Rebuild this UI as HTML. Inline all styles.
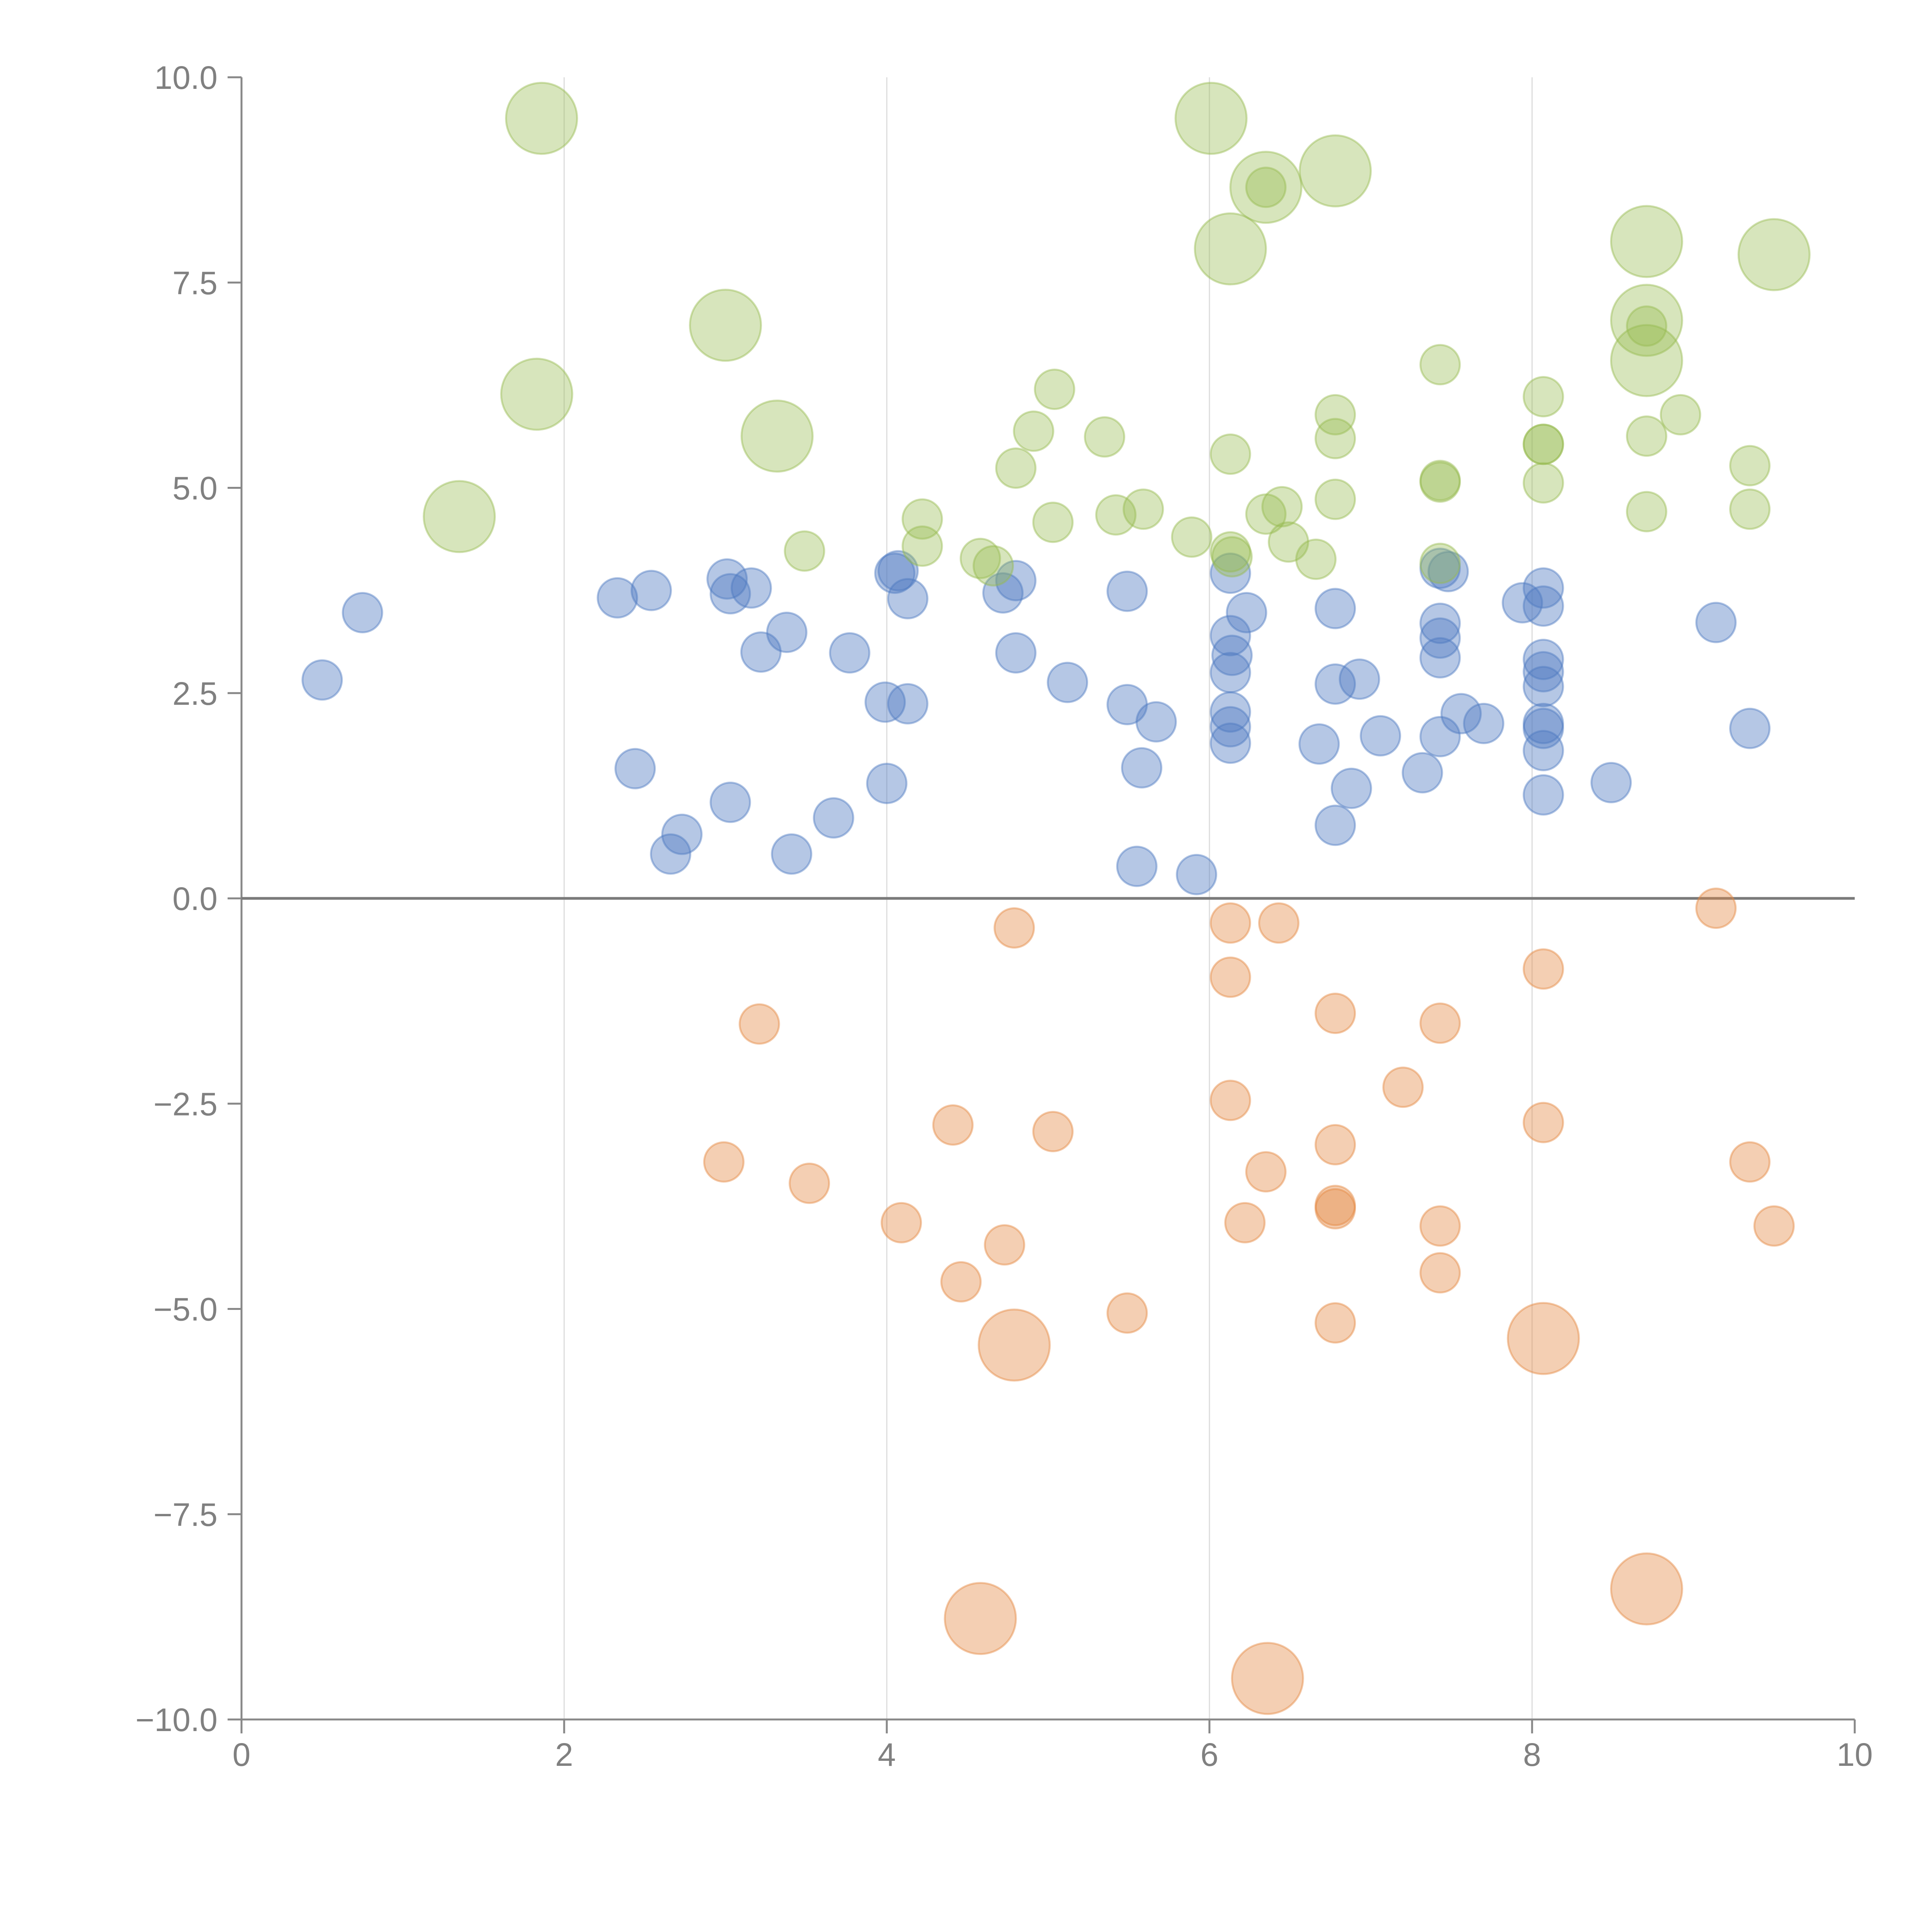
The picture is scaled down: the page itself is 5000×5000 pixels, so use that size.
<!DOCTYPE html>
<html><head><meta charset="utf-8"><style>html,body{margin:0;padding:0;background:#fff}svg{display:block}</style></head>
<body>
<svg id="chart" width="5000" height="5000" xmlns="http://www.w3.org/2000/svg" font-family="'Liberation Sans', sans-serif">
<g id="grid"></g>
<g id="axes"></g>
<g id="marks"></g>
</svg>
<script>
const xTicks = [0, 2, 4, 6, 8, 10];
const yTicks = [10, 7.5, 5, 2.5, 0, -2.5, -5, -7.5, -10];
const yTickLabels = ["10.0", "7.5", "5.0", "2.5", "0.0", "\u22122.5", "\u22125.0", "\u22127.5", "\u221210.0"];

const blueX = [0.50,0.75,2.33,2.54,2.44,2.66,2.73,3.01,3.03,3.16,3.03,3.22,3.38,3.41,3.67,3.77,3.99,4.00,4.05,4.07,4.13,4.13,4.72,4.80,4.80,5.12,5.49,5.49,5.58,5.67,5.55,5.92,6.13,6.23,6.13,6.14,6.13,6.13,6.13,6.13,6.78,6.78,6.93,6.68,7.06,6.88,6.78,7.32,7.43,7.48,7.43,7.43,7.43,7.43,7.56,7.70,7.94,8.07,8.07,8.07,8.07,8.07,8.07,8.07,8.07,8.07,8.49,9.14,9.35];
const blueY = [2.66,3.48,3.66,3.75,1.58,0.54,0.78,3.89,3.71,3.78,1.17,3.00,3.24,0.54,0.98,2.99,2.39,1.40,3.96,3.99,3.65,2.37,3.72,3.87,2.99,2.63,3.74,2.36,1.59,2.15,0.39,0.29,3.96,3.48,3.20,2.96,2.75,2.27,2.09,1.89,3.53,2.61,2.67,1.88,1.98,1.34,0.89,1.53,4.02,3.98,3.35,3.17,2.93,1.97,2.25,2.13,3.60,3.78,3.56,2.91,2.76,2.58,2.13,2.07,1.80,1.26,1.41,3.36,2.07];

const orangeX = [9.14,4.79,6.13,6.43,6.13,8.07,3.21,6.78,7.43,7.20,6.13,8.07,4.41,5.03,6.78,2.99,9.35,3.52,6.35,6.78,6.78,4.09,6.22,7.43,9.50,4.73,7.43,4.46,5.49,6.78,4.79,8.07,8.71,4.58,6.36];
const orangeY = [-0.12,-0.36,-0.30,-0.30,-0.96,-0.86,-1.53,-1.40,-1.52,-2.30,-2.46,-2.73,-2.76,-2.84,-3.00,-3.21,-3.21,-3.47,-3.33,-3.74,-3.78,-3.95,-3.95,-3.99,-3.99,-4.22,-4.56,-4.67,-5.05,-5.17,-5.44,-5.36,-8.41,-8.77,-9.50];
const orangeSize = [0,0,0,0,0,0,0,0,0,0,0,0,0,0,0,0,0,0,0,0,0,0,0,0,0,0,0,0,0,0,1,1,1,1,1];

const greenX = [1.86,6.01,6.35,6.78,6.13,8.71,9.50,3.00,8.71,8.71,1.83,3.32,1.35,6.35,8.71,7.43,5.04,8.07,6.78,8.92,4.91,5.35,6.78,8.71,8.07,8.07,6.13,4.80,9.35,7.43,7.43,8.07,6.78,6.45,5.42,5.59,6.35,8.71,9.35,4.22,5.03,5.89,6.49,4.22,3.49,6.13,6.14,6.66,4.58,4.66,7.43];
const greenY = [9.50,9.50,8.66,8.86,7.91,8.00,7.84,6.98,7.04,6.55,6.14,5.63,4.65,8.66,6.97,6.50,6.20,6.11,5.89,5.89,5.69,5.62,5.60,5.63,5.53,5.53,5.41,5.24,5.27,5.09,5.07,5.06,4.86,4.77,4.67,4.74,4.68,4.71,4.74,4.62,4.58,4.40,4.34,4.29,4.23,4.22,4.16,4.13,4.14,4.05,4.08];
const greenSize = [1,1,1,1,1,1,1,1,1,1,1,1,1,0,0,0,0,0,0,0,0,0,0,0,0,0,0,0,0,0,0,0,0,0,0,0,0,0,0,0,0,0,0,0,0,0,0,0,0,0,0];

const NS = "http://www.w3.org/2000/svg";
const X0 = 625, X1 = 4800, Y0 = 4450, Y1 = 200;
function sx(v){ return X0 + (v - 0) / 10 * (X1 - X0); }
function sy(v){ return Y0 - (v + 10) / 20 * (Y0 - Y1); }
function rad(s){ return s ? 92 : 51; }
function mk(tag, attrs, parent){ const e = document.createElementNS(NS, tag); for (const k in attrs) e.setAttribute(k, attrs[k]); parent.appendChild(e); return e; }

const grid = document.getElementById('grid');
const axes = document.getElementById('axes');
const marks = document.getElementById('marks');

[2,4,6,8].forEach(v => {
  const l = mk('line', {x1: sx(v), x2: sx(v), y1: Y1, y2: Y0, stroke: '#dcdcdc', 'stroke-width': 3}, grid);
  
  
});

const ya = mk('line', {x1: X0, x2: X0, y1: Y1, y2: Y0, stroke: '#888', 'stroke-width': 5}, axes);


const xa = mk('line', {x1: X0, x2: X1, y1: Y0, y2: Y0, stroke: '#888', 'stroke-width': 5}, axes);



yTicks.forEach((v, i) => {
  const t = mk('line', {x1: X0 - 36, x2: X0, y1: sy(v), y2: sy(v), stroke: '#888', 'stroke-width': 5}, axes);
  
  
  const tx = mk('text', {x: X0 - 62, y: sy(v) + 30, 'text-anchor': 'end', 'font-size': 84, fill: '#808080'}, axes);
  tx.textContent = yTickLabels[i];
  
  
});
xTicks.forEach(v => {
  const t = mk('line', {x1: sx(v), x2: sx(v), y1: Y0, y2: Y0 + 36, stroke: '#888', 'stroke-width': 5}, axes);
  
  
  const tx = mk('text', {x: sx(v), y: Y0 + 120, 'text-anchor': 'middle', 'font-size': 84, fill: '#808080'}, axes);
  tx.textContent = String(v);
  
  
});

const zl = mk('line', {x1: X0, x2: X1, y1: sy(0), y2: sy(0), stroke: '#7a7a7a', 'stroke-width': 7}, axes);



function series(xs, ys, sizes, fill, stroke, name){
  xs.forEach((x, i) => {
    const c = mk('circle', {cx: sx(x), cy: sy(ys[i]), r: rad(sizes ? sizes[i] : 0), fill: fill, stroke: stroke, 'stroke-width': 5}, marks);
    
    
  });
}
series(blueX, blueY, null, 'rgba(78,121,193,0.42)', 'rgba(78,121,193,0.45)', 'blue-bubble');
series(orangeX, orangeY, orangeSize, 'rgba(228,135,65,0.40)', 'rgba(228,135,65,0.45)', 'orange-bubble');
series(greenX, greenY, greenSize, 'rgba(150,186,80,0.38)', 'rgba(150,186,80,0.45)', 'green-bubble');
</script>
</body></html>
